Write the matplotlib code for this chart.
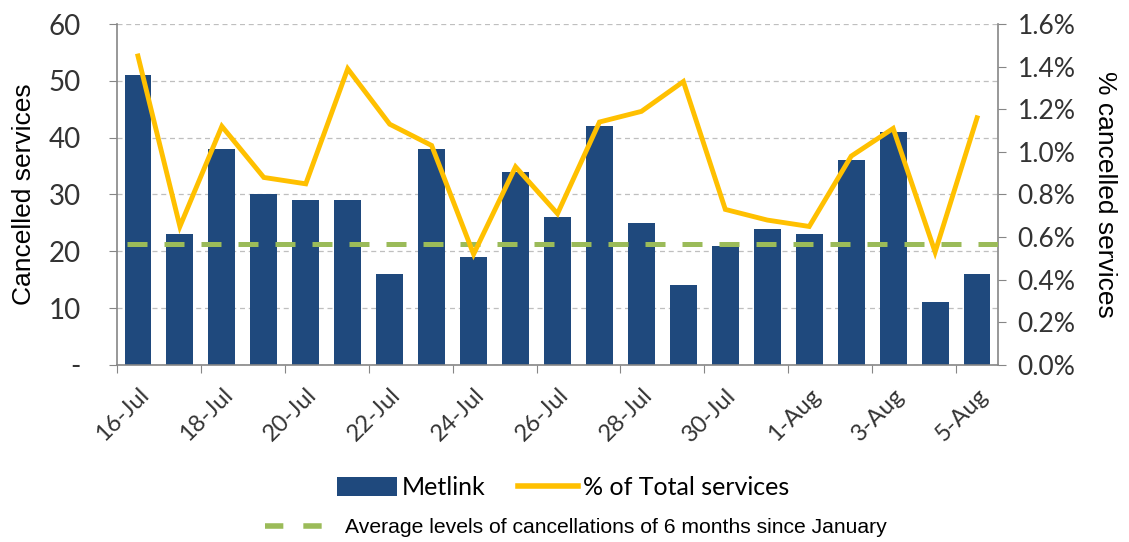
import numpy as np
import matplotlib.pyplot as plt
from matplotlib.lines import Line2D
from matplotlib.patches import Patch

# daily cancellations, 16 Jul - 5 Aug
dates = ["16-Jul", "17-Jul", "18-Jul", "19-Jul", "20-Jul", "21-Jul", "22-Jul",
         "23-Jul", "24-Jul", "25-Jul", "26-Jul", "27-Jul", "28-Jul", "29-Jul",
         "30-Jul", "31-Jul", "1-Aug", "2-Aug", "3-Aug", "4-Aug", "5-Aug"]
cancelled = [51, 23, 38, 30, 29, 29, 16, 38, 19, 34, 26, 42, 25, 14, 21, 24, 23, 36, 41, 11, 16]
pct_total = [1.45, 0.65, 1.12, 0.88, 0.85, 1.39, 1.13, 1.03, 0.52, 0.93, 0.71,
             1.14, 1.19, 1.33, 0.73, 0.68, 0.65, 0.98, 1.11, 0.53, 1.16]
avg_pct = 0.57

left_ticks = [0, 10, 20, 30, 40, 50, 60]
left_labels = ["-", "10", "20", "30", "40", "50", "60"]
right_ticks = [0.0, 0.2, 0.4, 0.6, 0.8, 1.0, 1.2, 1.4, 1.6]

bar_color = "#1F497D"
line_color = "#FFC000"
avg_color = "#9BBB59"
spine_color = "#868686"
tick_color = "#333333"

fig = plt.figure(figsize=(11.29, 5.42), dpi=100)
ax = fig.add_axes([0.1036, 0.3266, 0.7804, 0.6291])
ax2 = ax.twinx()

x = np.arange(len(dates))
ax.bar(x, cancelled, width=0.64, color=bar_color, zorder=2)
ax.set_xlim(-0.5, len(dates) - 0.5)
ax.set_ylim(0, 60)
ax.set_yticks(left_ticks)
ax.set_yticklabels(left_labels)
ax.yaxis.grid(True, color="#BFBFBF", linestyle=(0, (4, 3)), linewidth=0.9, zorder=0)
ax.set_axisbelow(True)

# ticks sit on category boundaries every two days, labels on the days themselves
ax.set_xticks(np.arange(-0.5, len(dates), 2))
ax.set_xticklabels([])
ax.set_xticks(x[::2], minor=True)
ax.set_xticklabels(dates[::2], minor=True, rotation=45, ha="right",
                   rotation_mode="anchor", fontsize=17, color=tick_color, family="Lato")
ax.tick_params(axis="x", which="major", length=6, color=spine_color, direction="out")
ax.tick_params(axis="x", which="minor", length=0, pad=14)
ax.tick_params(axis="y", length=6, color=spine_color, labelsize=20, labelcolor=tick_color, pad=20)
for lab in ax.get_yticklabels():
    lab.set_family("Lato")

ax2.plot(x, pct_total, color=line_color, linewidth=3.5, zorder=4, solid_joinstyle="miter")
ax2.hlines(avg_pct, -0.25, len(dates) - 0.5, color=avg_color, linewidth=3.6,
           linestyles=[(0, (4, 3.4))], zorder=3)
ax2.set_ylim(0, 1.6)
ax2.set_yticks(right_ticks)
ax2.set_yticklabels([f"{v:.1f}%" for v in right_ticks])
ax2.tick_params(axis="y", length=6, color=spine_color, labelsize=19, labelcolor=tick_color, pad=8)
for lab in ax2.get_yticklabels():
    lab.set_family("Lato")

# bars behind the twin axes lines
ax.set_zorder(1)
ax2.set_zorder(2)
ax2.patch.set_visible(False)

for a in (ax, ax2):
    a.spines["top"].set_visible(False)
    for s in ("left", "right", "bottom"):
        a.spines[s].set_color(spine_color)
        a.spines[s].set_linewidth(1.2)
ax.spines["right"].set_visible(False)
ax2.spines["left"].set_visible(False)
ax2.spines["bottom"].set_visible(False)

ax.set_ylabel("Cancelled services", fontsize=19, family="Liberation Sans", labelpad=9)
ax2.set_ylabel("% cancelled services", fontsize=19, family="Liberation Sans",
               rotation=270, labelpad=30)

h1 = [Patch(facecolor=bar_color), Line2D([], [], color=line_color, linewidth=4)]
fig.legend(h1, ["Metlink", "% of Total services"], loc="center", bbox_to_anchor=(0.499, 0.1),
           ncol=2, frameon=False, prop={"family": "Lato", "size": 18},
           handlelength=2.4, handleheight=0.8, handletextpad=0.2, columnspacing=1.3)
h2 = [Line2D([], [], color=avg_color, linewidth=4, linestyle=(0, (3.3, 3.6)))]
fig.legend(h2, ["Average levels of cancellations of 6 months since January"], loc="center",
           bbox_to_anchor=(0.51, 0.026), frameon=False,
           prop={"family": "Liberation Sans", "size": 15.2}, handlelength=2.7, handletextpad=1.1)

fig.savefig("out.png", dpi=100)
